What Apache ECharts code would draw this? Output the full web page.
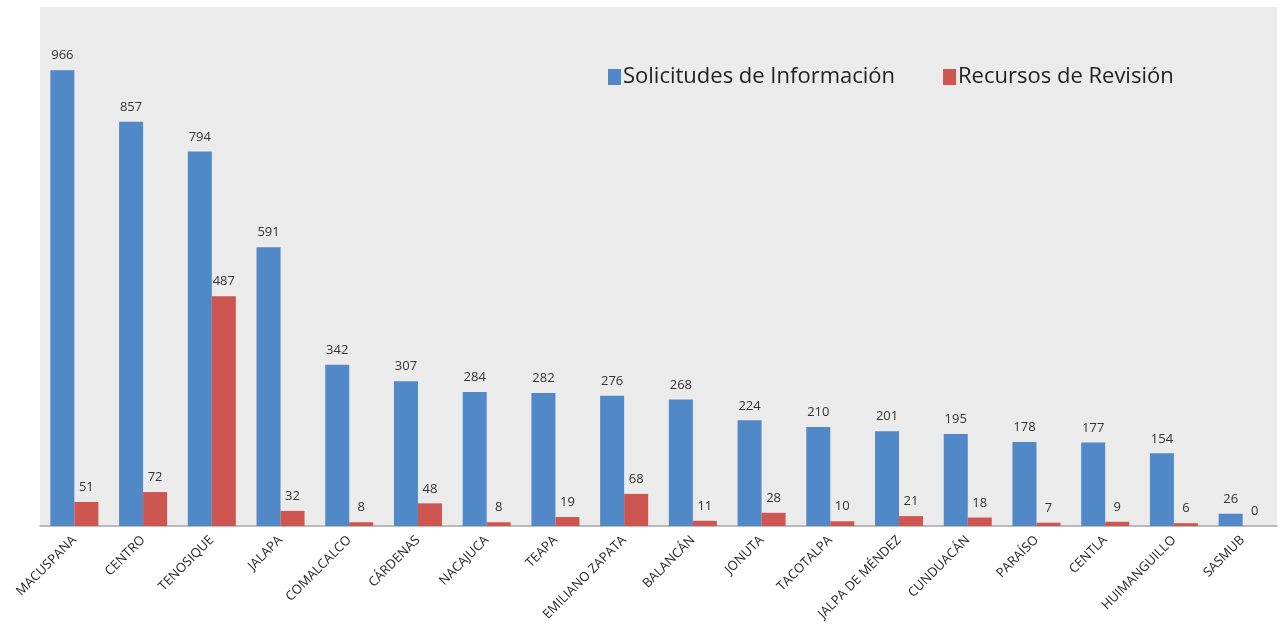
<!DOCTYPE html>
<html>
<head>
<meta charset="utf-8">
<script src="https://cdn.jsdelivr.net/npm/echarts@6/dist/echarts.min.js"></script>
<style>
  html, body { margin: 0; padding: 0; background: #fff; }
  #chart { width: 1282px; height: 639px; }
</style>
</head>
<body>
<div id="chart"></div>
<script>
var municipios = ['MACUSPANA', 'CENTRO', 'TENOSIQUE', 'JALAPA', 'COMALCALCO', 'CÁRDENAS',
    'NACAJUCA', 'TEAPA', 'EMILIANO ZAPATA', 'BALANCÁN', 'JONUTA', 'TACOTALPA',
    'JALPA DE MÉNDEZ', 'CUNDUACÁN', 'PARAÍSO', 'CENTLA', 'HUIMANGUILLO', 'SASMUB'];
var solicitudes = [966, 857, 794, 591, 342, 307, 284, 282, 276, 268, 224, 210, 201, 195, 178, 177, 154, 26];
var recursos = [51, 72, 487, 32, 8, 48, 8, 19, 68, 11, 28, 10, 21, 18, 7, 9, 6, 0];

var chart = echarts.init(document.getElementById('chart'));
var fontFam = '"Open Sans", Lato, sans-serif';

var option = {
    backgroundColor: '#ffffff',
    animation: false,
    textStyle: { fontFamily: fontFam },
    legend: {
        left: 603,
        top: 61,
        itemWidth: 13,
        itemHeight: 16,
        itemGap: 48,
        icon: 'rect',
        textStyle: { fontSize: 22, color: '#222', fontFamily: fontFam, padding: [0, 0, 0, -3] },
        data: ['Solicitudes de Información', 'Recursos de Revisión']
    },
    grid: {
        left: 40,
        right: 5,
        top: 7,
        bottom: 113,
        show: true,
        backgroundColor: '#ebebeb',
        borderWidth: 0
    },
    xAxis: {
        type: 'category',
        data: municipios,
        axisLine: { lineStyle: { color: '#a6a6a6', width: 1.5 } },
        axisTick: { show: false },
        axisLabel: {
            rotate: 45,
            interval: 0,
            fontSize: 13,
            color: '#222',
            margin: 12
        }
    },
    yAxis: {
        type: 'value',
        min: 0,
        max: 1100,
        show: false,
        splitLine: { show: false }
    },
    series: [{
        name: 'Solicitudes de Información',
        type: 'bar',
        data: solicitudes,
        barWidth: 24,
        barGap: '0%',
        itemStyle: { color: '#5088c8' },
        label: { show: true, position: 'top', fontSize: 13, color: '#333', distance: 8 }
    }, {
        name: 'Recursos de Revisión',
        type: 'bar',
        data: recursos,
        barWidth: 24,
        itemStyle: { color: '#cd5650' },
        label: { show: true, position: 'top', fontSize: 13, color: '#333', distance: 8 }
    }]
};
chart.setOption(option);
</script>
</body>
</html>
